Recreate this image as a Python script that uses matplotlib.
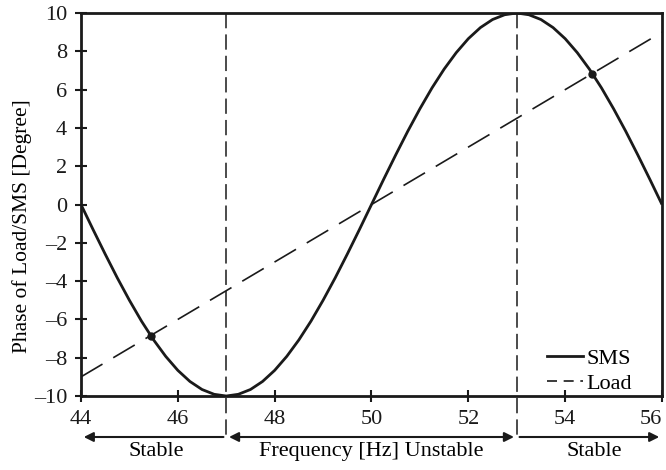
import numpy as np
import matplotlib
matplotlib.use("Agg")
import matplotlib.pyplot as plt
from matplotlib.lines import Line2D

plt.rcParams["font.family"] = ["Liberation Serif", "DejaVu Serif"]

# SMS phase curve (0.25 Hz steps)
freq = np.arange(44, 56.001, 0.25)
sms_phase = [
    0.0, -1.31, -2.59, -3.83, -5.0, -6.09, -7.07, -7.93, -8.66, -9.24, -9.66, -9.91, -10.0,
    -9.91, -9.66, -9.24, -8.66, -7.93, -7.07, -6.09, -5.0, -3.83, -2.59, -1.31, 0.0,
    1.31, 2.59, 3.83, 5.0, 6.09, 7.07, 7.93, 8.66, 9.24, 9.66, 9.91, 10.0,
    9.91, 9.66, 9.24, 8.66, 7.93, 7.07, 6.09, 5.0, 3.83, 2.59, 1.31, 0.0,
]
load_freq = [44, 56]
load_phase = [-9, 9]
cross_freq = [45.44, 54.56]
cross_phase = [-6.84, 6.84]
bounds = [47, 53]
xticks = [44, 46, 48, 50, 52, 54, 56]
yticks = [-10, -8, -6, -4, -2, 0, 2, 4, 6, 8, 10]

INK = "#1a1a1a"
fig = plt.figure(figsize=(6.66, 4.70), dpi=100)
ax = fig.add_axes([0.1216, 0.1574, 0.8724, 0.8149])

ax.plot(freq, sms_phase, color=INK, lw=2.0, solid_capstyle="butt")
ax.plot(load_freq, load_phase, color=INK, lw=1.2, dashes=(15, 7.5))
ax.plot(cross_freq, cross_phase, "o", color=INK, ms=5)

ax.set_xlim(44, 56)
ax.set_ylim(-10, 10)
ax.set_xticks(xticks)
ax.set_yticks(yticks)
ax.set_xticklabels([str(t) for t in xticks])
ax.set_yticklabels([str(t).replace("-", "\u2013") for t in yticks])
ax.tick_params(direction="inout", length=8, width=1.5, labelsize=16, pad=6, colors=INK)
# last x label sits inside the figure edge
last = ax.get_xticklabels()[-1]
last.set_horizontalalignment("right")
for s in ax.spines.values():
    s.set_linewidth(2)
    s.set_color(INK)
ax.set_ylabel("Phase of Load/SMS [Degree]", fontsize=15.5)
ax.yaxis.set_label_coords(-0.085, 0.444)

# boundary lines run down through the stability arrows
tr = ax.get_xaxis_transform()
for b in bounds:
    ax.plot([b, b], [1, -0.107], transform=tr, color=INK, lw=1.1,
            dashes=(10, 4), clip_on=False)

arr_y = -0.107
arrow_kw = dict(color=INK, lw=1.5, mutation_scale=14)
ax.annotate("", xy=(44, arr_y), xytext=(bounds[0], arr_y), xycoords=tr, textcoords=tr,
            arrowprops=dict(arrowstyle="-|>", **arrow_kw))
ax.annotate("", xy=(bounds[0], arr_y), xytext=(bounds[1], arr_y), xycoords=tr, textcoords=tr,
            arrowprops=dict(arrowstyle="<|-|>", **arrow_kw))
ax.annotate("", xy=(56, arr_y), xytext=(bounds[1], arr_y), xycoords=tr, textcoords=tr,
            arrowprops=dict(arrowstyle="-|>", **arrow_kw))

lab_y = -0.146
ax.text(45.55, lab_y, "Stable", transform=tr, ha="center", va="center", fontsize=16)
ax.text(50.0, lab_y, "Frequency [Hz] Unstable", transform=tr, ha="center", va="center", fontsize=16)
ax.text(54.6, lab_y, "Stable", transform=tr, ha="center", va="center", fontsize=16)

handles = [Line2D([], [], color=INK, lw=2.0),
           Line2D([], [], color=INK, lw=1.2, dashes=(6, 4))]
ax.legend(handles, ["SMS", "Load"], loc="lower right", bbox_to_anchor=(0.948, 0.005),
          frameon=False, fontsize=16, handlelength=1.6, handletextpad=0.15,
          labelspacing=0.2, borderpad=0, borderaxespad=0)

fig.savefig("out.png", dpi=100)
